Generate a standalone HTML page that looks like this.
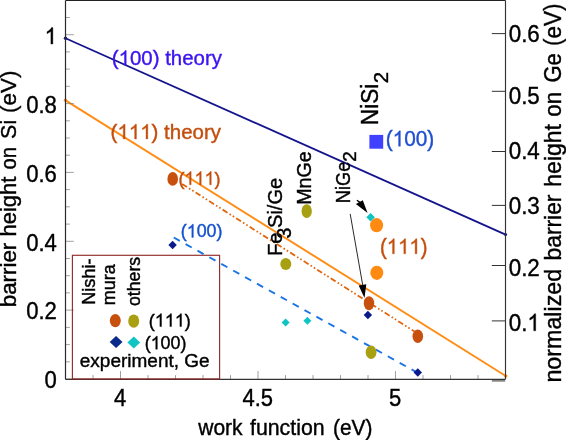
<!DOCTYPE html>
<html><head><meta charset="utf-8"><title>chart</title>
<style>
html,body{margin:0;padding:0;background:#fff;}
body{width:566px;height:440px;overflow:hidden;}
svg{display:block;will-change:transform;}
text{font-family:"Liberation Sans",sans-serif;font-kerning:none;}
</style></head><body>
<svg width="566" height="440" viewBox="0 0 566 440">
<rect x="0" y="0" width="566" height="440" fill="#ffffff"/>
<line x1="65.5" y1="38.2" x2="505.6" y2="234.6" stroke="#14148c" stroke-width="1.8"/>
<circle cx="65.5" cy="38.2" r="1.7" fill="#14148c"/><circle cx="505.6" cy="234.6" r="1.5" fill="#14148c"/>
<line x1="65.5" y1="100.3" x2="505.8" y2="376" stroke="#ff8c14" stroke-width="1.95"/>
<circle cx="65.5" cy="100.3" r="1.7" fill="#ff8c14"/><circle cx="505.8" cy="376" r="1.7" fill="#ff8c14"/>
<g stroke="#808080" stroke-width="0.75" fill="none">
<line x1="65.5" y1="379.0" x2="73.8" y2="379.0"/>
<line x1="65.5" y1="361.8" x2="69.8" y2="361.8"/>
<line x1="65.5" y1="344.6" x2="69.8" y2="344.6"/>
<line x1="65.5" y1="327.4" x2="69.8" y2="327.4"/>
<line x1="65.5" y1="310.1" x2="73.8" y2="310.1"/>
<line x1="65.5" y1="292.9" x2="69.8" y2="292.9"/>
<line x1="65.5" y1="275.7" x2="69.8" y2="275.7"/>
<line x1="65.5" y1="258.5" x2="69.8" y2="258.5"/>
<line x1="65.5" y1="241.3" x2="73.8" y2="241.3"/>
<line x1="65.5" y1="224.1" x2="69.8" y2="224.1"/>
<line x1="65.5" y1="206.8" x2="69.8" y2="206.8"/>
<line x1="65.5" y1="189.6" x2="69.8" y2="189.6"/>
<line x1="65.5" y1="172.4" x2="73.8" y2="172.4"/>
<line x1="65.5" y1="155.2" x2="69.8" y2="155.2"/>
<line x1="65.5" y1="138.0" x2="69.8" y2="138.0"/>
<line x1="65.5" y1="120.8" x2="69.8" y2="120.8"/>
<line x1="65.5" y1="103.6" x2="73.8" y2="103.6"/>
<line x1="65.5" y1="86.3" x2="69.8" y2="86.3"/>
<line x1="65.5" y1="69.1" x2="69.8" y2="69.1"/>
<line x1="65.5" y1="51.9" x2="69.8" y2="51.9"/>
<line x1="65.5" y1="34.7" x2="73.8" y2="34.7"/>
<line x1="65.5" y1="17.5" x2="69.8" y2="17.5"/>
<line x1="93.0" y1="379.3" x2="93.0" y2="375.1"/>
<line x1="120.5" y1="379.3" x2="120.5" y2="371.0"/>
<line x1="148.0" y1="379.3" x2="148.0" y2="375.1"/>
<line x1="175.5" y1="379.3" x2="175.5" y2="375.1"/>
<line x1="203.0" y1="379.3" x2="203.0" y2="375.1"/>
<line x1="230.5" y1="379.3" x2="230.5" y2="375.1"/>
<line x1="258.0" y1="379.3" x2="258.0" y2="371.0"/>
<line x1="285.5" y1="379.3" x2="285.5" y2="375.1"/>
<line x1="313.0" y1="379.3" x2="313.0" y2="375.1"/>
<line x1="340.5" y1="379.3" x2="340.5" y2="375.1"/>
<line x1="368.0" y1="379.3" x2="368.0" y2="375.1"/>
<line x1="395.5" y1="379.3" x2="395.5" y2="371.0"/>
<line x1="423.0" y1="379.3" x2="423.0" y2="375.1"/>
<line x1="450.5" y1="379.3" x2="450.5" y2="375.1"/>
<line x1="478.0" y1="379.3" x2="478.0" y2="375.1"/>
</g>
<g stroke="#333333" stroke-width="1" fill="none">
<line x1="491.8" y1="33.6" x2="505.5" y2="33.6"/>
<line x1="491.8" y1="91.3" x2="505.5" y2="91.3"/>
<line x1="491.8" y1="151.5" x2="505.5" y2="151.5"/>
<line x1="491.8" y1="205.4" x2="505.5" y2="205.4"/>
<line x1="491.8" y1="265.5" x2="505.5" y2="265.5"/>
<line x1="491.8" y1="320.9" x2="505.5" y2="320.9"/>
</g>
<rect x="491.8" y="379.7" width="13.4" height="2.0" fill="#858585"/>
<line x1="65.5" y1="0.4" x2="505.5" y2="0.4" stroke="#222" stroke-width="1.2"/>
<line x1="65.5" y1="0.4" x2="65.5" y2="379.3" stroke="#2a2a2a" stroke-width="1.2"/>
<line x1="65.5" y1="379.3" x2="505.5" y2="379.3" stroke="#333" stroke-width="1.2"/>
<line x1="505.5" y1="0.4" x2="505.5" y2="379.3" stroke="#333" stroke-width="1.15"/>
<rect x="72.4" y="255.3" width="147.2" height="123.6" fill="none" stroke="#942c2c" stroke-width="1.15"/>
<line x1="182.1" y1="183.9" x2="414.5" y2="331.5" stroke="#e2660e" stroke-width="1.8" stroke-dasharray="5.8 2.4 1.6 2.2 1.6 2.4"/>
<line x1="173.7" y1="237.5" x2="417.8" y2="372.9" stroke="#1a74e4" stroke-width="1.9" stroke-dasharray="7.0 6.6"/>
<line x1="350.2" y1="213.9" x2="363.4" y2="289" stroke="#111" stroke-width="0.9"/>
<polygon points="364.5,297.9 358.7,285.4 366.3,284.2" fill="#000"/>
<polygon points="367.6,212.9 355.9,204.1 362.8,200.3" fill="#000"/><line x1="356.9" y1="200.3" x2="360.2" y2="202.6" stroke="#000" stroke-width="1.3"/>
<ellipse cx="172.7" cy="178.9" rx="5.3" ry="6.8" fill="#c8500f"/>
<ellipse cx="369" cy="303.2" rx="5.2" ry="7.0" fill="#c8500f"/>
<ellipse cx="417.8" cy="336.3" rx="5.3" ry="6.8" fill="#c8500f"/>
<ellipse cx="306.7" cy="211.1" rx="5.2" ry="6.9" fill="#a8a010"/>
<ellipse cx="285.8" cy="264.0" rx="5.5" ry="6.0" fill="#a8a010"/>
<ellipse cx="371.1" cy="352.3" rx="5.4" ry="6.7" fill="#a8a010"/>
<ellipse cx="376.6" cy="225.2" rx="6.5" ry="7.1" fill="#ff8a12"/>
<ellipse cx="376.8" cy="272.8" rx="6.5" ry="7.1" fill="#ff8a12"/>
<polygon points="172.6,240.8 176.79999999999998,245 172.6,249.2 168.4,245" fill="#0a1a8a"/>
<polygon points="367.9,310.8 372.09999999999997,315 367.9,319.2 363.7,315" fill="#0a1a8a"/>
<polygon points="417.8,368.3 422.0,372.5 417.8,376.7 413.6,372.5" fill="#0a1a8a"/>
<polygon points="285.6,318.5 289.6,322.5 285.6,326.5 281.6,322.5" fill="#10c4c4"/>
<polygon points="307.4,316.8 311.4,320.8 307.4,324.8 303.4,320.8" fill="#10c4c4"/>
<polygon points="370.6,213.0 374.90000000000003,217.3 370.6,221.60000000000002 366.3,217.3" fill="#10c4c4"/>
<rect x="369.4" y="134.9" width="13.8" height="13.8" fill="#4040ff"/>
<ellipse cx="115.3" cy="320.6" rx="5.5" ry="6.6" fill="#c8500f"/>
<ellipse cx="133.7" cy="321.1" rx="5.5" ry="6.7" fill="#a8a010"/>
<polygon points="116.1,335.9 122.5,341.9 116.1,347.9 109.69999999999999,341.9" fill="#0a2a8c"/>
<polygon points="133.8,336.4 140.20000000000002,342.5 133.8,348.6 127.4,342.5" fill="#10c4c4"/>
<g transform="translate(56.9 44.0) translate(-12.29 0) scale(0.9432 1)" fill="#000" stroke="#000" stroke-width="0.4" font-size="23.43"><path transform="translate(0.00 0) scale(0.01144 -0.01115)" stroke-width="35.0" d="M763 0H583V1147Q518 1085 412.5 1023T223 930V1104Q375 1175.5 488.5 1277T647 1474H763Z"/></g>
<g transform="translate(56.9 112.9) translate(-30.72 0) scale(0.9432 1)" fill="#000" stroke="#000" stroke-width="0.4" font-size="23.43"><text x="0.00" y="0" xml:space="preserve">0.8</text></g>
<g transform="translate(56.9 181.7) translate(-30.72 0) scale(0.9432 1)" fill="#000" stroke="#000" stroke-width="0.4" font-size="23.43"><text x="0.00" y="0" xml:space="preserve">0.6</text></g>
<g transform="translate(56.9 250.6) translate(-30.72 0) scale(0.9432 1)" fill="#000" stroke="#000" stroke-width="0.4" font-size="23.43"><text x="0.00" y="0" xml:space="preserve">0.4</text></g>
<g transform="translate(56.9 319.4) translate(-30.72 0) scale(0.9432 1)" fill="#000" stroke="#000" stroke-width="0.4" font-size="23.43"><text x="0.00" y="0" xml:space="preserve">0.2</text></g>
<g transform="translate(56.9 388.3) translate(-12.29 0) scale(0.9432 1)" fill="#000" stroke="#000" stroke-width="0.4" font-size="23.43"><text x="0.00" y="0" xml:space="preserve">0</text></g>
<g transform="translate(120.2 406.3) translate(-6.12 0) scale(0.9259 1)" fill="#000" stroke="#000" stroke-width="0.4" font-size="23.76"><text x="0.00" y="0" xml:space="preserve">4</text></g>
<g transform="translate(257.7 406.3) translate(-15.29 0) scale(0.9259 1)" fill="#000" stroke="#000" stroke-width="0.4" font-size="23.76"><text x="0.00" y="0" xml:space="preserve">4.5</text></g>
<g transform="translate(395.2 406.3) translate(-6.12 0) scale(0.9259 1)" fill="#000" stroke="#000" stroke-width="0.4" font-size="23.76"><text x="0.00" y="0" xml:space="preserve">5</text></g>
<g transform="translate(508.7 42.0) scale(0.9218 1)" fill="#000" stroke="#000" stroke-width="0.4" font-size="24.27"><text x="0.00" y="0" xml:space="preserve">0.6</text></g>
<g transform="translate(508.7 104.4) scale(0.9218 1)" fill="#000" stroke="#000" stroke-width="0.4" font-size="24.27"><text x="0.00" y="0" xml:space="preserve">0.5</text></g>
<g transform="translate(508.7 159.0) scale(0.9218 1)" fill="#000" stroke="#000" stroke-width="0.4" font-size="24.27"><text x="0.00" y="0" xml:space="preserve">0.4</text></g>
<g transform="translate(508.7 213.9) scale(0.9218 1)" fill="#000" stroke="#000" stroke-width="0.4" font-size="24.27"><text x="0.00" y="0" xml:space="preserve">0.3</text></g>
<g transform="translate(508.7 276.1) scale(0.9218 1)" fill="#000" stroke="#000" stroke-width="0.4" font-size="24.27"><text x="0.00" y="0" xml:space="preserve">0.2</text></g>
<g transform="translate(508.7 330.8) scale(0.9218 1)" fill="#000" stroke="#000" stroke-width="0.4" font-size="24.27"><text x="0.00" y="0" xml:space="preserve">0.</text><path transform="translate(20.24 0) scale(0.01185 -0.01155)" stroke-width="33.8" d="M763 0H583V1147Q518 1085 412.5 1023T223 930V1104Q375 1175.5 488.5 1277T647 1474H763Z"/></g>
<g transform="translate(198.24 434.6) scale(0.9460 1)" fill="#000" stroke="#000" stroke-width="0.4" font-size="22.24"><text x="0.00" y="0" xml:space="preserve">work</text></g>
<g transform="translate(250.0 434.6) scale(0.9590 1)" fill="#000" stroke="#000" stroke-width="0.4" font-size="22.24"><text x="0.00" y="0" xml:space="preserve">function</text></g>
<g transform="translate(333.0 434.6) scale(0.9235 1)" fill="#000" stroke="#000" stroke-width="0.4" font-size="22.64"><text x="0.00" y="0" xml:space="preserve">(eV)</text></g>
<g transform="translate(16.4 307.3) rotate(-90) scale(1.0070 1)" fill="#000" stroke="#000" stroke-width="0.4" font-size="22.2"><text x="0.00" y="0" xml:space="preserve">barrier</text></g>
<g transform="translate(16.4 236.4) rotate(-90) scale(0.9886 1)" fill="#000" stroke="#000" stroke-width="0.4" font-size="22.2"><text x="0.00" y="0" xml:space="preserve">height</text></g>
<g transform="translate(16.4 169.6) rotate(-90) scale(0.9112 1)" fill="#000" stroke="#000" stroke-width="0.4" font-size="22.2"><text x="0.00" y="0" xml:space="preserve">on</text></g>
<g transform="translate(16.4 138.9) rotate(-90) scale(0.9676 1)" fill="#000" stroke="#000" stroke-width="0.4" font-size="22.2"><text x="0.00" y="0" xml:space="preserve">Si</text></g>
<g transform="translate(16.4 112.9) rotate(-90) scale(1.0086 1)" fill="#000" stroke="#000" stroke-width="0.4" font-size="22.2"><text x="0.00" y="0" xml:space="preserve">(eV)</text></g>
<g transform="translate(561.4 382.6) rotate(-90) scale(0.9994 1)" fill="#000" stroke="#000" stroke-width="0.4" font-size="23.3"><text x="0.00" y="0" xml:space="preserve">normalized</text></g>
<g transform="translate(561.4 260.5) rotate(-90) scale(0.9803 1)" fill="#000" stroke="#000" stroke-width="0.4" font-size="23.3"><text x="0.00" y="0" xml:space="preserve">barrier</text></g>
<g transform="translate(561.4 186.7) rotate(-90) scale(0.9877 1)" fill="#000" stroke="#000" stroke-width="0.4" font-size="23.3"><text x="0.00" y="0" xml:space="preserve">height</text></g>
<g transform="translate(561.4 116.7) rotate(-90) scale(0.9530 1)" fill="#000" stroke="#000" stroke-width="0.4" font-size="23.3"><text x="0.00" y="0" xml:space="preserve">on</text></g>
<g transform="translate(561.4 82.6) rotate(-90) scale(0.9459 1)" fill="#000" stroke="#000" stroke-width="0.4" font-size="23.3"><text x="0.00" y="0" xml:space="preserve">Ge</text></g>
<g transform="translate(561.4 46.0) rotate(-90) scale(0.9655 1)" fill="#000" stroke="#000" stroke-width="0.4" font-size="23.3"><text x="0.00" y="0" xml:space="preserve">(eV)</text></g>
<g transform="translate(111.8 65.2) scale(0.9798 1)" fill="#3c14f0" stroke="#3c14f0" stroke-width="0.4" font-size="20.86"><text x="0.00" y="0" xml:space="preserve">(</text><path transform="translate(6.95 0) scale(0.01019 -0.00993)" stroke-width="39.3" d="M763 0H583V1147Q518 1085 412.5 1023T223 930V1104Q375 1175.5 488.5 1277T647 1474H763Z"/><text x="18.55" y="0" xml:space="preserve">00) theory</text></g>
<g transform="translate(110.6 138.9) scale(0.9816 1)" fill="#c44e0c" stroke="#c44e0c" stroke-width="0.4" font-size="20.86"><text x="0.00" y="0" xml:space="preserve">(</text><path transform="translate(6.95 0) scale(0.01019 -0.00993)" stroke-width="39.3" d="M763 0H583V1147Q518 1085 412.5 1023T223 930V1104Q375 1175.5 488.5 1277T647 1474H763Z"/><path transform="translate(18.55 0) scale(0.01019 -0.00993)" stroke-width="39.3" d="M763 0H583V1147Q518 1085 412.5 1023T223 930V1104Q375 1175.5 488.5 1277T647 1474H763Z"/><path transform="translate(30.15 0) scale(0.01019 -0.00993)" stroke-width="39.3" d="M763 0H583V1147Q518 1085 412.5 1023T223 930V1104Q375 1175.5 488.5 1277T647 1474H763Z"/><text x="41.75" y="0" xml:space="preserve">) theory</text></g>
<g transform="translate(178.4 184.8) scale(0.9564 1)" fill="#c44e0c" stroke="#c44e0c" stroke-width="0.4" font-size="18.9"><text x="0.00" y="0" xml:space="preserve">(</text><path transform="translate(6.29 0) scale(0.00923 -0.00900)" stroke-width="43.3" d="M763 0H583V1147Q518 1085 412.5 1023T223 930V1104Q375 1175.5 488.5 1277T647 1474H763Z"/><path transform="translate(16.81 0) scale(0.00923 -0.00900)" stroke-width="43.3" d="M763 0H583V1147Q518 1085 412.5 1023T223 930V1104Q375 1175.5 488.5 1277T647 1474H763Z"/><path transform="translate(27.32 0) scale(0.00923 -0.00900)" stroke-width="43.3" d="M763 0H583V1147Q518 1085 412.5 1023T223 930V1104Q375 1175.5 488.5 1277T647 1474H763Z"/><text x="37.83" y="0" xml:space="preserve">)</text></g>
<g transform="translate(180.8 237.4) scale(0.9484 1)" fill="#1450d0" stroke="#1450d0" stroke-width="0.4" font-size="18.79"><text x="0.00" y="0" xml:space="preserve">(</text><path transform="translate(6.26 0) scale(0.00917 -0.00895)" stroke-width="43.6" d="M763 0H583V1147Q518 1085 412.5 1023T223 930V1104Q375 1175.5 488.5 1277T647 1474H763Z"/><text x="16.71" y="0" xml:space="preserve">00)</text></g>
<g transform="translate(385.7 146.2) scale(0.9532 1)" fill="#2050d0" stroke="#2050d0" stroke-width="0.4" font-size="21.84"><text x="0.00" y="0" xml:space="preserve">(</text><path transform="translate(7.27 0) scale(0.01066 -0.01040)" stroke-width="37.5" d="M763 0H583V1147Q518 1085 412.5 1023T223 930V1104Q375 1175.5 488.5 1277T647 1474H763Z"/><text x="19.42" y="0" xml:space="preserve">00)</text></g>
<g transform="translate(380.0 253.8) scale(0.9479 1)" fill="#c44e0c" stroke="#c44e0c" stroke-width="0.4" font-size="21.42"><text x="0.00" y="0" xml:space="preserve">(</text><path transform="translate(7.13 0) scale(0.01046 -0.01020)" stroke-width="38.2" d="M763 0H583V1147Q518 1085 412.5 1023T223 930V1104Q375 1175.5 488.5 1277T647 1474H763Z"/><path transform="translate(19.05 0) scale(0.01046 -0.01020)" stroke-width="38.2" d="M763 0H583V1147Q518 1085 412.5 1023T223 930V1104Q375 1175.5 488.5 1277T647 1474H763Z"/><path transform="translate(30.96 0) scale(0.01046 -0.01020)" stroke-width="38.2" d="M763 0H583V1147Q518 1085 412.5 1023T223 930V1104Q375 1175.5 488.5 1277T647 1474H763Z"/><text x="42.87" y="0" xml:space="preserve">)</text></g>
<g transform="translate(378.0 125.2) rotate(-90) scale(0.9738 1)" fill="#000" stroke="#000" stroke-width="0.4" font-size="23.3"><text x="0.00" y="0" xml:space="preserve">NiSi</text></g>
<g transform="translate(388 83.2) rotate(-90)" fill="#000" stroke="#000" stroke-width="0.4" font-size="20.5"><text x="0.00" y="0" xml:space="preserve">2</text></g>
<g transform="translate(310.9 204.8) rotate(-90) scale(0.9622 1)" fill="#000" stroke="#000" stroke-width="0.4" font-size="20.38"><text x="0.00" y="0" xml:space="preserve">MnGe</text></g>
<g transform="translate(349.6 203.2) rotate(-90) scale(0.9048 1)" fill="#000" stroke="#000" stroke-width="0.4" font-size="20.18"><text x="0.00" y="0" xml:space="preserve">NiGe</text></g>
<g transform="translate(356.3 161.8) rotate(-90)" fill="#000" stroke="#000" stroke-width="0.4" font-size="19.0"><text x="0.00" y="0" xml:space="preserve">2</text></g>
<g transform="translate(281.6 256.0) rotate(-90) scale(0.9544 1)" fill="#000" stroke="#000" stroke-width="0.4" font-size="21.01"><text x="0.00" y="0" xml:space="preserve">Fe</text></g>
<g transform="translate(291 238.6) rotate(-90)" fill="#000" stroke="#000" stroke-width="0.4" font-size="19.5"><text x="0.00" y="0" xml:space="preserve">3</text></g>
<g transform="translate(281.6 228.0) rotate(-90) scale(0.9554 1)" fill="#000" stroke="#000" stroke-width="0.4" font-size="21.01"><text x="0.00" y="0" xml:space="preserve">Si/Ge</text></g>
<g transform="translate(94.5 304.8) rotate(-90) scale(1.0257 1)" fill="#000" stroke="#000" stroke-width="0.4" font-size="17.7"><text x="0.00" y="0" xml:space="preserve">Nishi-</text></g>
<g transform="translate(115 305.2) rotate(-90) scale(1.0167 1)" fill="#000" stroke="#000" stroke-width="0.4" font-size="17.7"><text x="0.00" y="0" xml:space="preserve">mura</text></g>
<g transform="translate(140.3 306.0) rotate(-90) scale(1.0001 1)" fill="#000" stroke="#000" stroke-width="0.4" font-size="17.7"><text x="0.00" y="0" xml:space="preserve">others</text></g>
<g transform="translate(148.8 326.6) scale(0.9735 1)" fill="#000" stroke="#000" stroke-width="0.4" font-size="18.48"><text x="0.00" y="0" xml:space="preserve">(</text><path transform="translate(6.15 0) scale(0.00902 -0.00880)" stroke-width="44.3" d="M763 0H583V1147Q518 1085 412.5 1023T223 930V1104Q375 1175.5 488.5 1277T647 1474H763Z"/><path transform="translate(16.43 0) scale(0.00902 -0.00880)" stroke-width="44.3" d="M763 0H583V1147Q518 1085 412.5 1023T223 930V1104Q375 1175.5 488.5 1277T647 1474H763Z"/><path transform="translate(26.71 0) scale(0.00902 -0.00880)" stroke-width="44.3" d="M763 0H583V1147Q518 1085 412.5 1023T223 930V1104Q375 1175.5 488.5 1277T647 1474H763Z"/><text x="36.99" y="0" xml:space="preserve">)</text></g>
<g transform="translate(144.7 349.2) scale(0.9689 1)" fill="#000" stroke="#000" stroke-width="0.4" font-size="18.48"><text x="0.00" y="0" xml:space="preserve">(</text><path transform="translate(6.15 0) scale(0.00902 -0.00880)" stroke-width="44.3" d="M763 0H583V1147Q518 1085 412.5 1023T223 930V1104Q375 1175.5 488.5 1277T647 1474H763Z"/><text x="16.43" y="0" xml:space="preserve">00)</text></g>
<g transform="translate(79.8 366.5) scale(1.0061 1)" fill="#000" stroke="#000" stroke-width="0.4" font-size="18.9"><text x="0.00" y="0" xml:space="preserve">experiment, Ge</text></g>
</svg>
</body></html>
